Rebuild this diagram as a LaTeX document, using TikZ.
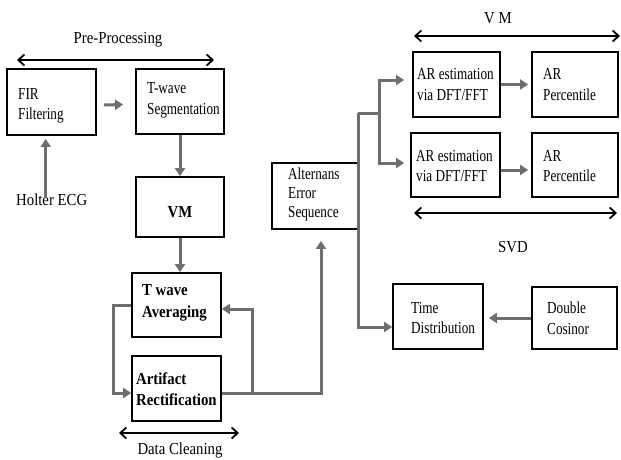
\documentclass[tikz,border=0pt]{standalone}
\usepackage{fontspec}
\setmainfont{Liberation Serif}[FakeStretch=0.88]
\newfontfamily\boxfont{Liberation Serif}[FakeStretch=0.785]
\usetikzlibrary{arrows.meta,calc}
\definecolor{flowgray}{HTML}{6E6E6E}
\tikzset{
  box/.style={draw=black, line width=1.8pt, inner sep=0pt},
  txt/.style={inner sep=0pt, align=left, anchor=west, font=\boxfont\fontsize{16.8}{20.5}\selectfont},
  btxt/.style={txt, font=\fontsize{16.8}{21.5}\selectfont\bfseries},
  lbl/.style={inner sep=0pt, font=\fontsize{16.8}{20}\selectfont},
  flow/.style={draw=flowgray, line width=3pt, -{Triangle[length=8pt,width=10pt]}},
  flowline/.style={draw=flowgray, line width=3pt},
  span/.style={draw=black, line width=1.8pt, {Straight Barb[length=6pt,width=11pt]}-{Straight Barb[length=6pt,width=11pt]}}
}
\begin{document}
\begin{tikzpicture}[x=1pt,y=-1pt]
\useasboundingbox (0,0) rectangle (621,459);
% boxes
\node[box, minimum width=89pt, minimum height=66pt] (fir) at (51.5,102) {};
\node[box, minimum width=88pt, minimum height=65pt] (tseg) at (180,101.5) {};
\node[box, minimum width=88pt, minimum height=60pt] (vm) at (180,207) {};
\node[box, minimum width=89pt, minimum height=64pt] (tavg) at (176.5,305) {};
\node[box, minimum width=89pt, minimum height=65pt] (art) at (176.5,388.5) {};
\node[box, minimum width=87pt, minimum height=66pt] (alt) at (315.5,196) {};
\node[box, minimum width=87pt, minimum height=65pt] (are1) at (456.5,84.5) {};
\node[box, minimum width=86pt, minimum height=65pt] (arp1) at (575,84.5) {};
\node[box, minimum width=89pt, minimum height=64pt] (are2) at (455.5,165) {};
\node[box, minimum width=86pt, minimum height=64pt] (arp2) at (575,165) {};
\node[box, minimum width=90pt, minimum height=65pt] (time) at (438,316.5) {};
\node[box, minimum width=85pt, minimum height=62pt] (dbl) at (574.5,318) {};
% texts
\node[txt] (firT) at (18,106) {FIR\\Filtering};
\node[txt] (tsegT) at (147,100.5) {T-wave\\Segmentation};
\node[lbl, font=\fontsize{16.8}{20}\selectfont\bfseries] (vmT) at (180,212) {VM};
\node[lbl, anchor=west] (holter) at (16,200) {Holter ECG};
\node[btxt] (tavgT) at (142,303) {T wave\\Averaging};
\node[btxt] (artT) at (136,389) {Artifact\\Rectification};
\node[txt, font=\boxfont\fontsize{16.8}{19}\selectfont] (altT) at (288,194) {Alternans\\Error\\Sequence};
\node[txt] (are1T) at (417,84.5) {AR estimation\\via DFT/FFT};
\node[txt] (arp1T) at (543,84.5) {AR\\Percentile};
\node[txt] (are2T) at (416,166) {AR estimation\\via DFT/FFT};
\node[txt] (arp2T) at (543,166) {AR\\Percentile};
\node[txt] (timeT) at (411,318) {Time\\Distribution};
\node[txt] (dblT) at (547,318) {Double\\Cosinor};
% span labels
\node[lbl] (preL) at (118,40) {Pre-Processing};
\node[lbl] (dcL) at (180,450) {Data Cleaning};
\node[lbl] (vmL) at (498,18) {V M};
\node[lbl] (svdL) at (513,247) {SVD};
% span arrows
\coordinate (pa) at (17,60); \coordinate (pb) at (214,60);
\coordinate (da) at (119,433); \coordinate (db) at (239,433);
\coordinate (va) at (414,36); \coordinate (vb) at (620,36);
\coordinate (sa) at (414,213); \coordinate (sb) at (617,213);
\draw[span] (pa) -- (pb);
\draw[span] (da) -- (db);
\draw[span] (va) -- (vb);
\draw[span] (sa) -- (sb);
% flow connectors
\draw[flow] ($(fir.east)+(7,3)$) -- ($(tseg.west)+(-12,3)$);
\draw[flow] ([xshift=-6pt,yshift=-4pt]holter.north) -- ([xshift=-6pt,yshift=-3pt]holter.north |- fir.south);
\draw[flow] (tseg.south) -- (vm.north);
\draw[flow] (vm.south) -- (vm.south |- tavg.north);
\draw[flow] (tavg.west) -- ++(-18,0) |- ([yshift=-4.5pt]art.west);
\coordinate (k1) at (252,309);
\draw[flow] ([yshift=-4.5pt]art.east) -| (k1) -- (tavg.east |- k1);
\draw[flow] ([yshift=-4.5pt]art.east) -| ([xshift=5.5pt,yshift=-11pt]alt.south);
\coordinate (sp) at (358,113);
\coordinate (br) at (379,113);
\draw[flow] (sp) |- ([yshift=-10.5pt]time.west);
\draw[flowline] (sp) -- (br);
\draw[flow] (br) |- ([xshift=-8pt,yshift=4.5pt]are1.west);
\draw[flow] (br) |- ([xshift=-6pt,yshift=2pt]are2.west);
\draw[flow] (are1.east) -- ([xshift=-3pt]arp1.west);
\draw[flow] ([yshift=-5pt]are2.east) -- ([yshift=-5pt,xshift=-3pt]arp2.west);
\draw[flow] (dbl.west) -- ([xshift=5pt]time.east |- dbl.west);
\end{tikzpicture}
\end{document}
